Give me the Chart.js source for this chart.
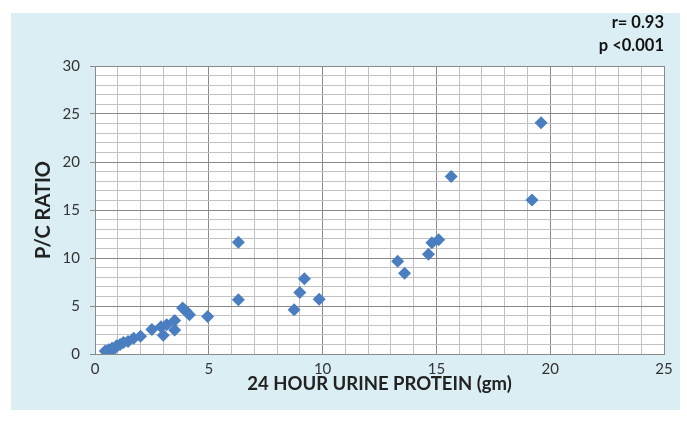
<!DOCTYPE html>
<html>
<head>
<meta charset="utf-8">
<script src="https://cdn.jsdelivr.net/npm/chart.js@4/dist/chart.umd.min.js"></script>
<style>
  body { margin: 0; background: #fff; }
  canvas { display: block; }
</style>
</head>
<body>
<canvas id="chart" width="687" height="421"></canvas>
<script>
// 24 hour urine protein (gm) vs P/C ratio
const urineProtein = [0.45, 0.6, 0.75, 0.85, 0.95, 1.1, 1.25, 1.45, 1.7, 2.0, 2.5, 2.9, 3.0, 3.15, 3.5, 3.5,
  3.85, 4.0, 4.15, 4.95, 6.3, 6.3, 8.75, 9.0, 9.2, 9.85, 13.3, 13.6, 14.65, 14.8, 15.1, 15.65, 19.2, 19.6];
const pcRatio = [0.3, 0.45, 0.6, 0.55, 0.85, 1.0, 1.2, 1.3, 1.65, 1.85, 2.55, 2.85, 1.95, 3.05, 2.5, 3.5,
  4.8, 4.45, 4.1, 3.9, 11.65, 5.65, 4.6, 6.4, 7.85, 5.7, 9.65, 8.4, 10.4, 11.6, 11.9, 18.5, 16.05, 24.1];

const xTicks = [0, 5, 10, 15, 20, 25];
const yTicks = [0, 5, 10, 15, 20, 25, 30];
const statsText = ['r= 0.93', 'p <0.001'];

const points = urineProtein.map((x, i) => ({ x: x, y: pcRatio[i] }));

const majorLine = '#8a8a8a';
const minorLine = '#c2c2c2';

// light blue panel + white plot area behind everything
const panel = {
  id: 'panel',
  beforeDraw(chart) {
    const { ctx, chartArea } = chart;
    ctx.save();
    ctx.fillStyle = '#ffffff';
    ctx.fillRect(0, 0, chart.width, chart.height);
    ctx.fillStyle = '#DAEEF3';
    ctx.fillRect(11, 13, 669, 397);
    ctx.fillStyle = '#ffffff';
    ctx.fillRect(chartArea.left, chartArea.top, chartArea.right - chartArea.left, chartArea.bottom - chartArea.top);
    ctx.restore();
  }
};

const tickFont = { family: 'Lato', size: 15 };

new Chart(document.getElementById('chart'), {
  type: 'scatter',
  data: {
    datasets: [{
      data: points,
      pointStyle: 'rectRot',
      pointRadius: 6.5,
      pointHoverRadius: 6.5,
      backgroundColor: '#4A7EC0',
      borderWidth: 0
    }]
  },
  options: {
    responsive: false,
    animation: false,
    devicePixelRatio: 1,
    layout: { autoPadding: false, padding: { top: 0, left: 0, right: 23, bottom: 0 } },
    plugins: {
      legend: { display: false },
      tooltip: { enabled: false },
      title: {
        display: true,
        text: statsText,
        align: 'end',
        color: '#111',
        font: { family: 'Lato', size: 16.5, weight: 'bold', lineHeight: 1.4 },
        padding: { top: 11, bottom: 8.8 }
      }
    },
    scales: {
      x: {
        type: 'linear',
        min: 0,
        max: 25,
        afterFit(scale) { scale.height = 67; },
        ticks: {
          stepSize: 1,
          autoSkip: false,
          maxRotation: 0,
          padding: 1,
          color: '#333',
          font: tickFont,
          callback: v => xTicks.includes(v) ? v : ''
        },
        grid: {
          color: c => xTicks.includes(c.tick.value) ? majorLine : minorLine,
          tickColor: 'transparent',
          tickLength: 5
        },
        border: { color: majorLine },
        title: {
          display: true,
          text: '24 HOUR URINE PROTEIN (gm)',
          color: '#222',
          font: { family: 'Lato', size: 18.5, weight: 'bold' },
          padding: { top: 0, bottom: 26 }
        }
      },
      y: {
        type: 'linear',
        min: 0,
        max: 30,
        afterFit(scale) { scale.width = 95; },
        ticks: {
          stepSize: 1,
          autoSkip: false,
          padding: 10,
          color: '#333',
          font: tickFont,
          callback: v => yTicks.includes(v) ? v : ''
        },
        grid: {
          color: c => yTicks.includes(c.tick.value) ? majorLine : minorLine,
          tickColor: c => yTicks.includes(c.tick.value) ? majorLine : 'transparent',
          tickLength: 5
        },
        border: { color: majorLine },
        title: {
          display: true,
          text: 'P/C RATIO',
          color: '#222',
          font: { family: 'Lato', size: 20, weight: 'bold' },
          padding: { top: 32, bottom: 0 }
        }
      }
    }
  },
  plugins: [panel]
});
</script>
</body>
</html>
